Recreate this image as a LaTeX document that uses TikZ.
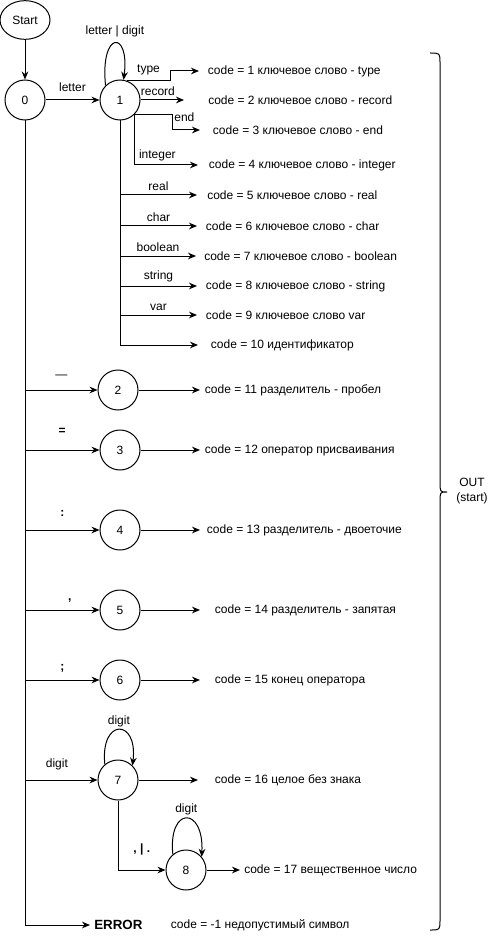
\documentclass[tikz,border=0pt]{standalone}
\usepackage{fontspec}
\setmainfont{Liberation Sans}
\usetikzlibrary{shapes.geometric, arrows.meta, positioning}
\tikzset{
  stnode/.style={circle, draw, line width=0.75pt, minimum size=30pt, inner sep=0pt},
  startnode/.style={ellipse, draw, line width=0.75pt, minimum width=37.5pt, minimum height=29pt, inner sep=0pt},
  arrow/.style={-{Stealth[length=6pt, width=5pt]}, line width=0.75pt},
  outtext/.style={anchor=west, inner ysep=1pt, inner xsep=#1},
  outtext/.default=4pt,
  lbl/.style={inner sep=1pt}
}

\begin{document}
\begin{tikzpicture}[x=0.75pt, y=-0.75pt, every node/.style={font=\fontsize{9}{11}\selectfont}]
  \useasboundingbox (0,0) rectangle (501,941);
  % Nodes
  \node[startnode] (start) at (25,20) {Start};
  \node[stnode] (s0) at (25,100) {0};
  \node[stnode] (s1) at (120,100) {1};
  \node[stnode] (s2) at (118,390) {2};
  \node[stnode] (s3) at (120,450) {3};
  \node[stnode] (s4) at (120,530) {4};
  \node[stnode] (s5) at (120,610) {5};
  \node[stnode] (s6) at (120,680) {6};
  \node[stnode] (s7) at (118,780) {7};
  \node[stnode] (s8) at (186,870) {8};
  \node[outtext=6.5pt] (c1) at (199,71) {code = 1 ключевое слово - type};
  \node[outtext=18pt] (c2) at (184,100) {code = 2 ключевое слово - record};
  \node[outtext=9.5pt] (c3) at (200,130) {code = 3 ключевое слово - end};
  \node[outtext=8pt] (c4) at (198,165) {code = 4 ключевое слово - integer};
  \node[outtext=7.5pt] (c5) at (197,195) {code = 5 ключевое слово - real};
  \node[outtext=6.5pt] (c6) at (197,226) {code = 6 ключевое слово - char};
  \node[outtext=6pt] (c7) at (196,256) {code = 7 ключевое слово - boolean};
  \node[outtext=6.5pt] (c8) at (197,286) {code = 8 ключевое слово - string};
  \node[outtext=6.5pt] (c9) at (197,315) {code = 9 ключевое слово var};
  \node[outtext=9.5pt] (c10) at (198,345) {code = 10 идентификатор};
  \node[outtext=3.5pt] (c11) at (200,390) {code = 11 разделитель - пробел};
  \node[outtext=3.5pt] (c12) at (200,450) {code = 12 оператор присваивания};
  \node[outtext=5pt] (c13) at (200,530) {code = 13 разделитель - двоеточие};
  \node[outtext=11pt] (c14) at (200,610) {code = 14 разделитель - запятая};
  \node[outtext=11pt] (c15) at (200,680) {code = 15 конец оператора};
  \node[outtext=12.5pt] (c16) at (198,780) {code = 16 целое без знака};
  \node[outtext=3pt] (c17) at (240,870) {code = 17 вещественное число};
  \node[outtext=3pt, font=\fontsize{10}{12}\selectfont] (err) at (90,925) {\textbf{ERROR}};
  \node[outtext=0pt, right=18pt of err] (c18) {code = -1 недопустимый символ};
  \node[align=center] (out) at (472,491) {OUT\\(start)};

  % Connections
  \draw[arrow] (start) -- (s0);
  \draw[arrow] (s0) -- node[lbl, above=5pt] {letter} (s1);
  \draw[arrow] (s1.135) .. controls (100,30) and (130,30) .. (s1.80) node[lbl, midway, above=3pt] {letter | digit};
  \draw[arrow] (s1.70) -- node[lbl, above=3pt] {type} ++(43,0) |- (c1.west);
  \draw[arrow] (s1.east) -- node[lbl, above=2pt, pos=0.4] {record} (c2.west);
  \draw[arrow] (s1.-45) -- ++(38,0) node[lbl, anchor=west, yshift=-2pt] {end} |- (c3.west);
  \draw[arrow] (s1.-45) |- node[lbl, above=2pt, pos=0.68] {integer} (c4.west);
  \draw[arrow] (s1.south) |- node[lbl, above=2pt, pos=0.75] {real} (c5.west);
  \draw[arrow] (s1.south) |- node[lbl, above=2pt, pos=0.75] {char} (c6.west);
  \draw[arrow] (s1.south) |- node[lbl, above=2pt, pos=0.75] {boolean} (c7.west);
  \draw[arrow] (s1.south) |- node[lbl, above=2pt, pos=0.75] {string} (c8.west);
  \draw[arrow] (s1.south) |- node[lbl, above=2pt, pos=0.75] {var} (c9.west);
  \draw[arrow] (s1.south) |- (c10.west);

  \draw[arrow] (s0.south) |- node[lbl, above=7pt, pos=0.75] {—} (s2.west);
  \draw[arrow] (s0.south) |- node[lbl, above=10pt, pos=0.75] {\textbf{=}} (s3.west);
  \draw[arrow] (s0.south) |- node[lbl, above=9pt, pos=0.75] {\textbf{:}} (s4.west);
  \draw[arrow] (s0.south) |- node[lbl, above=4pt, pos=0.8] {\textbf{,}} (s5.west);
  \draw[arrow] (s0.south) |- node[lbl, above=4.5pt, pos=0.75] {\textbf{;}} (s6.west);
  \draw[arrow] (s0.south) |- node[lbl, above=6.5pt, pos=0.72] {digit} (s7.west);
  \draw[arrow] (s0.south) |- (err.west);

  \draw[arrow] (s2.east) -- (c11.west);
  \draw[arrow] (s3.east) -- (c12.west);
  \draw[arrow] (s4.east) -- (c13.west);
  \draw[arrow] (s5.east) -- (c14.west);
  \draw[arrow] (s6.east) -- (c15.west);
  \draw[arrow] (s7.east) -- (c16.west);
  \draw[arrow] (s7.130) .. controls (100,718) and (138,718) .. (s7.45) node[lbl, midway, above=1pt] {digit};
  \draw[arrow] (s7.south) |- node[lbl, above=10pt, pos=0.75] {\textbf{, | .}} (s8.west);
  \draw[arrow] (s8.130) .. controls (168,806) and (204,806) .. (s8.40) node[lbl, midway, above=1pt] {digit};
  \draw[arrow] (s8.east) -- (c17.west);

  % brace
  \draw[line width=0.75pt] (430,53) .. controls (440,53) .. (440,63) -- (440,482)
    .. controls (440,492) .. (447,492) .. controls (440,492) .. (440,502) -- (440,920)
    .. controls (440,930) .. (430,930);
\end{tikzpicture}
\end{document}
